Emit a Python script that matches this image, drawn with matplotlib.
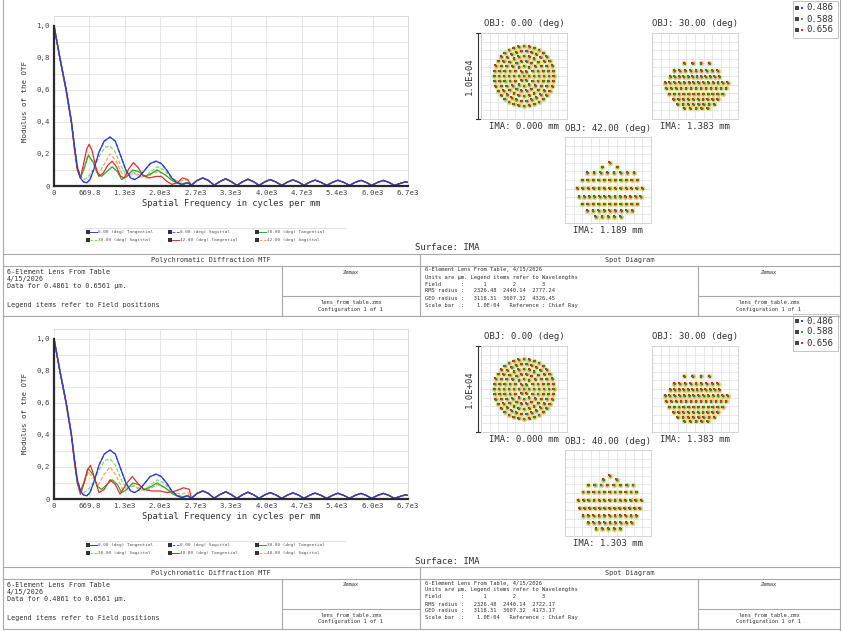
import numpy as np
import matplotlib
matplotlib.use('Agg')
import matplotlib.pyplot as plt

plt.rcParams['font.family'] = ['DejaVu Sans Mono']

W, H = 845, 631

# ---- MTF data ----
freq_ticks = [0, 669.8, 1339.6, 2009.4, 2679.2, 3349.0, 4018.8, 4688.6, 5358.4, 6028.2, 6698.0]
freq_tick_labels = ["0", "669.8", "1.3e3", "2.0e3", "2.7e3", "3.3e3", "4.0e3", "4.7e3", "5.4e3", "6.0e3", "6.7e3"]
mtf_ticks = [0, 0.2, 0.4, 0.6, 0.8, 1.0]
mtf_tick_labels = ["0", "0,2", "0,4", "0,6", "0,8", "1,0"]

# common high-frequency ripple (all fields overlap there)
tail_f = [2600, 2710, 2815, 2920, 3030, 3140, 3250, 3350, 3460, 3570, 3670, 3780, 3880, 3990,
          4090, 4200, 4310, 4420, 4520, 4630, 4730, 4840, 4940, 5050, 5160, 5270, 5370, 5480,
          5590, 5700, 5810, 5910, 6010, 6120, 6230, 6340, 6440, 6550, 6650, 6698]
tail_m = [0.005, 0.035, 0.05, 0.035, 0.005, 0.028, 0.045, 0.028, 0.004, 0.027, 0.042, 0.026, 0.004, 0.026,
          0.04, 0.025, 0.004, 0.025, 0.038, 0.024, 0.004, 0.024, 0.037, 0.023, 0.004, 0.023, 0.036, 0.023,
          0.004, 0.023, 0.035, 0.022, 0.004, 0.022, 0.035, 0.022, 0.004, 0.016, 0.026, 0.022]

# field 0.00 deg (tangential and sagittal coincide)
f_00 = [0, 110, 230, 330, 390, 440, 500, 560, 620, 680, 760, 850, 950, 1060, 1160, 1260, 1360, 1450,
        1530, 1620, 1720, 1820, 1930, 2030, 2130, 2230, 2330, 2430, 2530]
m_00 = [1.0, 0.80, 0.60, 0.40, 0.24, 0.12, 0.05, 0.025, 0.02, 0.04, 0.11, 0.21, 0.28, 0.305, 0.28, 0.19,
        0.10, 0.05, 0.04, 0.06, 0.10, 0.14, 0.155, 0.14, 0.10, 0.05, 0.02, 0.01, 0.02]

# field 30.00 deg
f_30t = [0, 110, 230, 330, 390, 440, 500, 560, 650, 740, 820, 900, 1000, 1100, 1200, 1280, 1380, 1490,
         1600, 1700, 1800, 1950, 2100, 2250, 2400, 2530]
m_30t = [1.0, 0.80, 0.60, 0.40, 0.23, 0.11, 0.05, 0.10, 0.19, 0.15, 0.08, 0.06, 0.09, 0.12, 0.09, 0.04,
         0.06, 0.10, 0.09, 0.06, 0.07, 0.10, 0.07, 0.03, 0.01, 0.02]
f_30s = [0, 110, 230, 330, 390, 440, 500, 570, 650, 740, 850, 960, 1060, 1160, 1260, 1360, 1480, 1600,
         1720, 1840, 1950, 2080, 2220, 2370, 2530]
m_30s = [1.0, 0.81, 0.61, 0.41, 0.25, 0.13, 0.06, 0.04, 0.06, 0.10, 0.18, 0.24, 0.25, 0.21, 0.13, 0.07,
         0.09, 0.07, 0.06, 0.09, 0.12, 0.10, 0.05, 0.02, 0.02]

# field 42.00 deg (top report)
f_42t = [0, 110, 230, 330, 390, 440, 500, 560, 620, 665, 720, 790, 850, 930, 1020, 1100, 1180, 1260,
         1330, 1420, 1500, 1580, 1680, 1800, 1930, 2030, 2130, 2230, 2330, 2430, 2530]
m_42t = [1.0, 0.80, 0.59, 0.39, 0.22, 0.10, 0.05, 0.14, 0.23, 0.26, 0.22, 0.12, 0.06, 0.08, 0.13, 0.155,
         0.12, 0.06, 0.05, 0.11, 0.145, 0.12, 0.07, 0.05, 0.06, 0.06, 0.03, 0.01, 0.02, 0.05, 0.04]
f_42s = [0, 110, 230, 330, 390, 440, 500, 570, 650, 740, 830, 940, 1060, 1170, 1280, 1400, 1500, 1620,
         1750, 1870, 1980, 2100, 2230, 2380, 2530]
m_42s = [1.0, 0.80, 0.60, 0.40, 0.23, 0.11, 0.05, 0.12, 0.20, 0.14, 0.07, 0.13, 0.20, 0.16, 0.08, 0.06,
         0.08, 0.06, 0.05, 0.08, 0.09, 0.07, 0.04, 0.03, 0.04]

# field 40.00 deg (bottom report)
f_40t = [0, 110, 230, 330, 390, 440, 500, 570, 630, 690, 760, 850, 950, 1060, 1160, 1250, 1380, 1480,
         1580, 1700, 1850, 2000, 2150, 2300, 2450, 2560]
m_40t = [1.0, 0.80, 0.59, 0.39, 0.22, 0.10, 0.03, 0.10, 0.18, 0.21, 0.14, 0.04, 0.06, 0.12, 0.09, 0.03,
         0.10, 0.14, 0.10, 0.06, 0.05, 0.05, 0.04, 0.05, 0.07, 0.06]
f_40s = [0, 110, 230, 330, 390, 440, 500, 570, 650, 740, 830, 940, 1060, 1170, 1300, 1400, 1500, 1620,
         1750, 1950, 2100, 2250, 2400, 2530]
m_40s = [1.0, 0.80, 0.60, 0.40, 0.23, 0.11, 0.04, 0.10, 0.17, 0.13, 0.08, 0.15, 0.20, 0.15, 0.06, 0.07,
         0.08, 0.06, 0.05, 0.09, 0.07, 0.04, 0.03, 0.04]

# ---- spot diagram data (micrometres, relative to chief ray) ----
# on-axis: hexapolar rings (radius, number of rays)
ring_radius = [0, 580, 1160, 1740, 2320, 2900, 3480]
ring_count = [1, 6, 12, 18, 24, 30, 36]
# off-axis spots as rows: (y, x_left, x_right, number of rays)
rows_30 = [(1470, -1240, 1660, 4), (620, -2400, 2630, 9), (-80, -2860, 2820, 12),
           (-770, -3480, 3790, 14), (-1430, -3360, 3600, 13), (-2090, -2980, 3210, 12),
           (-2710, -2480, 2630, 10), (-3290, -2010, 2240, 8), (-3750, -1240, 1470, 5)]
rows_42 = [(2000, 190, 190, 1), (1500, -660, 1080, 2), (850, -2400, 3020, 8), (0, -2980, 3410, 11),
           (-970, -3560, 3990, 13), (-1930, -3370, 3800, 13), (-2790, -2980, 3410, 11),
           (-3560, -2400, 2830, 9), (-4260, -1430, 1470, 5)]
rows_40 = [(2000, 190, 190, 1), (1550, -560, 1000, 2), (950, -2300, 2900, 8), (100, -2900, 3300, 11),
           (-850, -3450, 3850, 13), (-1800, -3300, 3700, 13), (-2650, -2900, 3300, 11),
           (-3450, -2300, 2750, 9), (-4150, -1400, 1450, 5)]

wavelengths = ["0.486", "0.588", "0.656"]
wave_colors = ["#2f45e0", "#1fb52a", "#e0281e"]
dot_colors = ["#3a4ab0", "#2e8a2c", "#b8321e"]

reports = [
    dict(oy=0, f3="42.00", ima3="1.189", ft=f_42t, mt=m_42t, fs=f_42s, ms=m_42s, rows3=rows_42,
         rms="2326.48  2440.14  2777.24", geo="3118.31  3607.32  4326.45"),
    dict(oy=313, f3="40.00", ima3="1.303", ft=f_40t, mt=m_40t, fs=f_40s, ms=m_40s, rows3=rows_40,
         rms="2326.48  2440.14  2722.17", geo="3118.31  3607.32  4173.17"),
]

fig = plt.figure(figsize=(8.45, 6.31), dpi=100)
bg = fig.add_axes([0, 0, 1, 1])
bg.set_xlim(0, W)
bg.set_ylim(H, 0)
bg.axis('off')


def px_axes(x0, y0, x1, y1):
    return fig.add_axes([x0 / W, 1 - y1 / H, (x1 - x0) / W, (y1 - y0) / H])


def hline(y, x0, x1):
    bg.plot([x0, x1], [y, y], color='#a8a8a8', lw=0.8)


def vline(x, y0, y1):
    bg.plot([x, x], [y0, y1], color='#a8a8a8', lw=0.8)


def draw_rays(ax, xs, ys):
    xs = np.asarray(xs, float)
    ys = np.asarray(ys, float)
    ax.plot(xs, ys, 'o', ms=3.9, color='#f0d27c', mew=0)
    ax.plot(xs, ys, 's', ms=1.3, color=dot_colors[0], mew=0)
    ax.plot(xs - 50, ys + 35, 's', ms=1.7, color=dot_colors[2], mew=0)
    ax.plot(xs + 50, ys - 35, 's', ms=1.6, color=dot_colors[1], mew=0)


def spot_axes(x0, y0):
    ax = px_axes(x0, y0, x0 + 86, y0 + 86)
    ax.set_xlim(-5000, 5000)
    ax.set_ylim(-5000, 5000)
    ax.set_xticks(np.arange(-5000, 5001, 1000))
    ax.set_yticks(np.arange(-5000, 5001, 1000))
    ax.tick_params(length=0, labelbottom=False, labelleft=False)
    ax.grid(True, color='#dedede', lw=0.5)
    for s in ax.spines.values():
        s.set_color('#cfcfcf')
        s.set_linewidth(0.6)
    return ax


vline(840, 0, H)

for rep in reports:
    oy = rep['oy']
    # ---------------- MTF plot ----------------
    ax = px_axes(54, 16 + oy, 408, 186 + oy)
    ax.set_xlim(0, 6698)
    ax.set_ylim(0, 1.06)
    ax.set_xticks(freq_ticks)
    ax.set_xticklabels(freq_tick_labels)
    ax.set_yticks(mtf_ticks)
    ax.set_yticklabels(mtf_tick_labels)
    ax.set_yticks(np.arange(0.1, 1.01, 0.2), minor=True)
    ax.tick_params(length=0, labelsize=5.3, labelcolor='#444444', pad=3)
    ax.tick_params(which='minor', length=0)
    ax.grid(True, which='both', color='#e2e2e2', lw=0.6)
    ax.set_axisbelow(True)
    for side in ['top', 'right']:
        ax.spines[side].set_color('#dddddd')
    for side in ['left', 'bottom']:
        ax.spines[side].set_color('#2a2a2a')
        ax.spines[side].set_linewidth(1.6)
    ax.spines['left'].set_bounds(0, 1.0)
    ax.set_xlabel('Spatial Frequency in cycles per mm', fontsize=6.3, color='#333333', labelpad=2)
    ax.set_ylabel('Modulus of the OTF', fontsize=5.3, color='#333333', labelpad=6)

    series = [
        (f_30s, m_30s, '#86d86a', (0, (3, 1.5)), "30.00 (deg) Sagittal"),
        (rep['fs'], rep['ms'], '#f2a65a', (0, (3, 1.5)), rep['f3'] + " (deg) Sagittal"),
        (f_30t, m_30t, '#22b02a', '-', "30.00 (deg) Tangential"),
        (f_00, m_00, '#4a5ee0', (0, (3, 1.5)), "0.00 (deg) Sagittal"),
        (rep['ft'], rep['mt'], '#e0302a', '-', rep['f3'] + " (deg) Tangential"),
        (f_00, m_00, '#2c3fd0', '-', "0.00 (deg) Tangential"),
    ]
    for fx, my, col, ls, lab in series:
        ax.plot(list(fx) + tail_f, list(my) + tail_m, color=col, ls=ls, lw=0.9, clip_on=True)

    # legend under the MTF plot
    legend_order = [5, 3, 2, 0, 4, 1]
    bg.plot([85, 345], [228 + oy, 228 + oy], color='#dddddd', lw=0.6)
    for k, idx in enumerate(legend_order):
        fx, my, col, ls, lab = series[idx]
        lx = [88, 170, 257][k % 3]
        ly = [232, 240][k // 3] + oy
        bg.plot(lx, ly, 's', ms=2.6, color='#333333', mew=0)
        bg.plot([lx + 2.5, lx + 9], [ly, ly], color=col, ls=ls, lw=0.7)
        bg.text(lx + 10, ly, lab, fontsize=3.2, color='#555555', va='center', ha='left')

    # ---------------- spot diagrams ----------------
    ax1 = spot_axes(481, 33 + oy)
    xs, ys = [], []
    for r, n in zip(ring_radius, ring_count):
        for k in range(n):
            a = 2 * np.pi * k / n
            xs.append(r * np.cos(a))
            ys.append(r * np.sin(a))
    draw_rays(ax1, xs, ys)

    for rows, x0, y0 in [(rows_30, 652, 33 + oy), (rep['rows3'], 565, 137 + oy)]:
        axs = spot_axes(x0, y0)
        xs, ys = [], []
        for yv, xl, xr, n in rows:
            xs.extend(np.linspace(xl, xr, n))
            ys.extend([yv] * n)
        draw_rays(axs, xs, ys)

    tcol = '#333333'
    bg.text(524, 28 + oy, 'OBJ: 0.00 (deg)', fontsize=6.5, color=tcol, ha='center', va='bottom')
    bg.text(695, 28 + oy, 'OBJ: 30.00 (deg)', fontsize=6.5, color=tcol, ha='center', va='bottom')
    bg.text(608, 133 + oy, 'OBJ: %s (deg)' % rep['f3'], fontsize=6.5, color=tcol, ha='center', va='bottom')
    bg.text(524, 122 + oy, 'IMA: 0.000 mm', fontsize=6.5, color=tcol, ha='center', va='top')
    bg.text(695, 122 + oy, 'IMA: 1.383 mm', fontsize=6.5, color=tcol, ha='center', va='top')
    bg.text(608, 226 + oy, 'IMA: %s mm' % rep['ima3'], fontsize=6.5, color=tcol, ha='center', va='top')

    # scale bar
    bg.plot([478, 478], [33 + oy, 119 + oy], color='#333333', lw=0.8)
    bg.plot([476, 480], [33 + oy, 33 + oy], color='#333333', lw=0.8)
    bg.plot([476, 480], [119 + oy, 119 + oy], color='#333333', lw=0.8)
    bg.text(469, 76 + oy, '1.0E+04', fontsize=6.5, color=tcol, rotation=90, ha='center', va='center')

    # wavelength legend
    bg.add_patch(plt.Rectangle((793, 1 + oy), 45, 37, fill=False, ec='#bbbbbb', lw=0.6))
    for k, (wl, wc) in enumerate(zip(wavelengths, wave_colors)):
        yy = 8 + 11 * k + oy
        bg.plot(797, yy, 's', ms=2.8, color='#444444', mew=0)
        bg.plot(802, yy, 's', ms=1.6, color=wc, mew=0)
        bg.text(806, yy, wl, fontsize=6.5, color=tcol, ha='left', va='center')

    bg.text(447, 248 + oy, 'Surface: IMA', fontsize=6.5, color=tcol, ha='center', va='center')

    # ---------------- report frames ----------------
    vline(3, oy, 316 + oy)
    hline(254 + oy, 3, 840)
    hline(266 + oy, 3, 840)
    hline(316 + oy, 3, 840)
    vline(420, 254 + oy, 316 + oy)
    vline(282, 266 + oy, 316 + oy)
    hline(296 + oy, 282, 420)
    vline(698, 266 + oy, 316 + oy)
    hline(296 + oy, 698, 840)

    small = dict(fontsize=4.9, color='#333333', va='center')
    tiny = dict(fontsize=3.9, color='#333333', va='center')
    bg.text(211, 260 + oy, 'Polychromatic Diffraction MTF', ha='center', **small)
    bg.text(630, 260 + oy, 'Spot Diagram', ha='center', **small)

    bg.text(7, 272 + oy, '6-Element Lens From Table', ha='left', **small)
    bg.text(7, 279 + oy, '4/15/2026', ha='left', **small)
    bg.text(7, 286 + oy, 'Data for 0.4861 to 0.6561 µm.', ha='left', **small)
    bg.text(7, 305 + oy, 'Legend items refer to Field positions', ha='left', **small)
    bg.text(351, 272 + oy, 'Zemax', ha='center', **tiny)
    bg.text(351, 302 + oy, 'lens_from_table.zmx', ha='center', **tiny)
    bg.text(351, 309 + oy, 'Configuration 1 of 1', ha='center', **tiny)

    right_lines = [
        '6-Element Lens From Table, 4/15/2026',
        'Units are µm. Legend items refer to Wavelengths',
        'Field      :      1        2        3',
        'RMS radius :   ' + rep['rms'],
        'GEO radius :   ' + rep['geo'],
        'Scale bar  :    1.0E-04   Reference : Chief Ray',
    ]
    for k, line in enumerate(right_lines):
        bg.text(425, 270 + 7 * k + oy, line, ha='left', **tiny)
    bg.text(769, 272 + oy, 'Zemax', ha='center', **tiny)
    bg.text(769, 302 + oy, 'lens_from_table.zmx', ha='center', **tiny)
    bg.text(769, 309 + oy, 'Configuration 1 of 1', ha='center', **tiny)

fig.savefig('out.png', dpi=100, facecolor='white')
